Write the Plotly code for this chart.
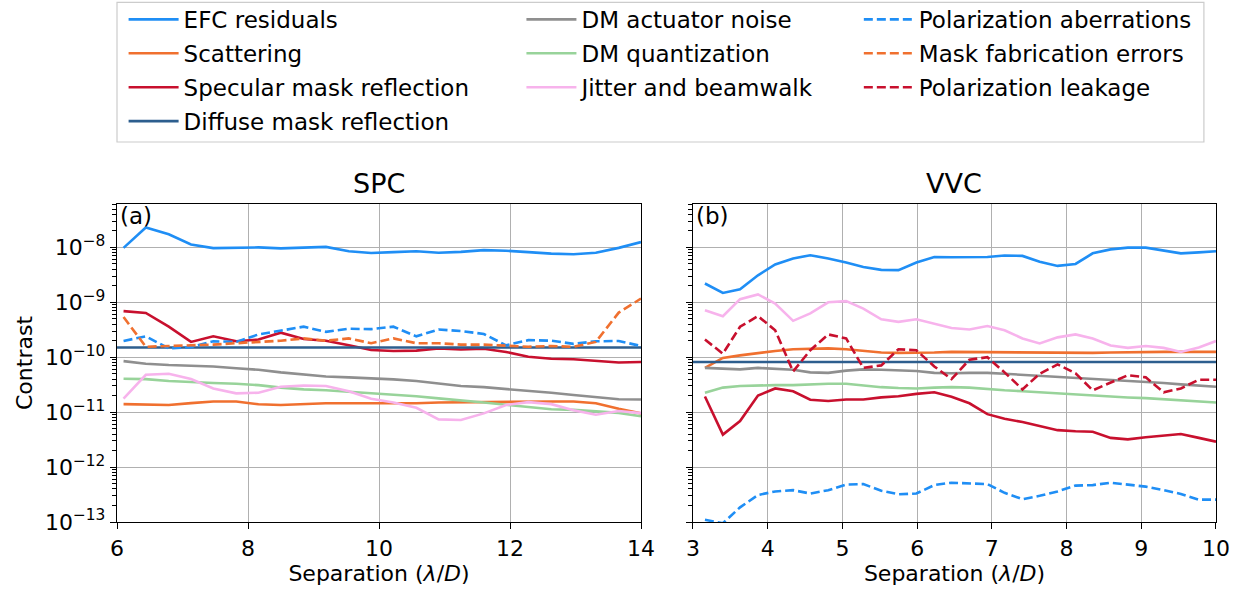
import plotly.graph_objects as go
from plotly.subplots import make_subplots

# separations (lambda/D)
spc_sep = [6.10, 6.44, 6.79, 7.13, 7.47, 7.82, 8.16, 8.50, 8.85, 9.19, 9.54, 9.88,
           10.22, 10.57, 10.91, 11.25, 11.60, 11.94, 12.28, 12.63, 12.97, 13.31, 13.66, 14.00]
vvc_sep = [3.16, 3.40, 3.63, 3.87, 4.10, 4.34, 4.57, 4.81, 5.05, 5.28, 5.52, 5.75,
           5.99, 6.23, 6.46, 6.70, 6.94, 7.17, 7.41, 7.64, 7.88, 8.12, 8.35, 8.59,
           8.82, 9.06, 9.30, 9.53, 9.77, 10.00]
spc_span = [6, 14]
vvc_span = [3, 10]

# y-axis decades
decade_vals = [1e-13, 1e-12, 1e-11, 1e-10, 1e-9, 1e-8]
decade_text = ["10<sup>−13</sup>", "10<sup>−12</sup>", "10<sup>−11</sup>",
               "10<sup>−10</sup>", "10<sup>−9</sup>", "10<sup>−8</sup>"]

# SPC contrast terms
spc_efc = [0.98e-8, 2.3e-8, 1.73e-8, 1.13e-8, 0.97e-8, 0.98e-8, 1.0e-8, 0.96e-8, 0.99e-8, 1.02e-8,
           0.85e-8, 0.79e-8, 0.82e-8, 0.85e-8, 0.80e-8, 0.83e-8, 0.89e-8, 0.87e-8, 0.82e-8, 0.77e-8,
           0.75e-8, 0.80e-8, 0.98e-8, 1.25e-8]
spc_scatter = [1.4e-11, 1.39e-11, 1.35e-11, 1.46e-11, 1.56e-11, 1.56e-11, 1.39e-11, 1.35e-11,
               1.42e-11, 1.45e-11, 1.45e-11, 1.45e-11, 1.43e-11, 1.45e-11, 1.5e-11, 1.52e-11,
               1.54e-11, 1.56e-11, 1.56e-11, 1.56e-11, 1.56e-11, 1.45e-11, 1.15e-11, 0.95e-11]
spc_specular = [6.9e-10, 6.4e-10, 3.6e-10, 1.9e-10, 2.4e-10, 1.95e-10, 2.1e-10, 2.8e-10, 2.15e-10,
                2.0e-10, 1.65e-10, 1.35e-10, 1.3e-10, 1.32e-10, 1.45e-10, 1.38e-10, 1.43e-10,
                1.25e-10, 1.02e-10, 0.94e-10, 0.92e-10, 0.87e-10, 0.80e-10, 0.82e-10]
spc_diffuse = [1.5e-10, 1.5e-10]
spc_dm_noise = [8.5e-11, 7.6e-11, 7.2e-11, 7.0e-11, 6.8e-11, 6.3e-11, 5.9e-11, 5.3e-11, 4.8e-11,
                4.45e-11, 4.3e-11, 4.15e-11, 3.95e-11, 3.7e-11, 3.3e-11, 3.0e-11, 2.85e-11,
                2.65e-11, 2.45e-11, 2.25e-11, 2.05e-11, 1.9e-11, 1.72e-11, 1.7e-11]
spc_dm_quant = [4.07e-11, 4.0e-11, 3.7e-11, 3.6e-11, 3.4e-11, 3.3e-11, 3.1e-11, 2.8e-11, 2.6e-11,
                2.5e-11, 2.35e-11, 2.25e-11, 2.1e-11, 1.95e-11, 1.78e-11, 1.65e-11, 1.5e-11,
                1.36e-11, 1.25e-11, 1.13e-11, 1.1e-11, 1.05e-11, 0.97e-11, 0.84e-11]
spc_jitter = [1.76e-11, 4.8e-11, 5.0e-11, 4.0e-11, 2.7e-11, 2.2e-11, 2.26e-11, 2.9e-11, 3.05e-11,
              3.0e-11, 2.4e-11, 1.75e-11, 1.5e-11, 1.2e-11, 0.74e-11, 0.72e-11, 0.95e-11,
              1.35e-11, 1.52e-11, 1.4e-11, 1.08e-11, 0.9e-11, 1.05e-11, 0.96e-11]
spc_pol_aberr = [1.98e-10, 2.4e-10, 1.45e-10, 1.53e-10, 1.95e-10, 1.9e-10, 2.6e-10, 3.1e-10, 3.6e-10,
                 2.9e-10, 3.3e-10, 3.25e-10, 3.6e-10, 2.4e-10, 3.2e-10, 3.0e-10, 2.65e-10, 1.65e-10,
                 2.05e-10, 2.0e-10, 1.75e-10, 1.95e-10, 1.98e-10, 1.6e-10]
spc_mask_fab = [5.4e-10, 1.55e-10, 1.6e-10, 1.64e-10, 1.7e-10, 1.8e-10, 1.9e-10, 2.0e-10, 2.2e-10,
                2.0e-10, 2.2e-10, 1.8e-10, 2.2e-10, 1.8e-10, 1.8e-10, 1.7e-10, 1.7e-10, 1.6e-10,
                1.55e-10, 1.6e-10, 1.55e-10, 1.9e-10, 6.5e-10, 1.17e-9]

# VVC contrast terms
vvc_efc = [2.2e-9, 1.48e-9, 1.73e-9, 3.1e-9, 4.9e-9, 6.3e-9, 7.2e-9, 6.3e-9, 5.3e-9, 4.4e-9,
           3.9e-9, 3.85e-9, 5.3e-9, 6.7e-9, 6.6e-9, 6.7e-9, 6.7e-9, 7.1e-9, 7.0e-9, 5.5e-9,
           4.6e-9, 5.0e-9, 7.8e-9, 9.2e-9, 9.9e-9, 9.9e-9, 8.7e-9, 7.8e-9, 8.1e-9, 8.5e-9]
vvc_scatter = [6.4e-11, 9.7e-11, 1.08e-10, 1.2e-10, 1.3e-10, 1.4e-10, 1.43e-10, 1.45e-10, 1.4e-10,
               1.3e-10, 1.22e-10, 1.2e-10, 1.2e-10, 1.22e-10, 1.25e-10, 1.24e-10, 1.24e-10,
               1.22e-10, 1.21e-10, 1.2e-10, 1.2e-10, 1.2e-10, 1.2e-10, 1.22e-10, 1.24e-10,
               1.25e-10, 1.25e-10, 1.25e-10, 1.25e-10, 1.25e-10]
vvc_specular = [1.93e-11, 3.9e-12, 6.9e-12, 2.0e-11, 2.7e-11, 2.4e-11, 1.68e-11, 1.6e-11, 1.7e-11,
                1.7e-11, 1.86e-11, 1.95e-11, 2.15e-11, 2.3e-11, 1.9e-11, 1.45e-11, 9.2e-12,
                7.6e-12, 6.6e-12, 5.6e-12, 4.7e-12, 4.5e-12, 4.4e-12, 3.4e-12, 3.2e-12, 3.5e-12,
                3.7e-12, 4.0e-12, 3.4e-12, 2.9e-12]
vvc_diffuse = [8.2e-11, 8.2e-11]
vvc_dm_noise = [6.4e-11, 6.2e-11, 6.0e-11, 6.4e-11, 6.2e-11, 5.9e-11, 5.3e-11, 5.2e-11, 5.7e-11,
                6.0e-11, 5.9e-11, 5.7e-11, 5.6e-11, 5.2e-11, 5.1e-11, 5.2e-11, 5.2e-11, 5.0e-11,
                4.8e-11, 4.6e-11, 4.4e-11, 4.2e-11, 4.0e-11, 3.9e-11, 3.7e-11, 3.6e-11, 3.4e-11,
                3.2e-11, 3.05e-11, 2.9e-11]
vvc_dm_quant = [2.26e-11, 2.8e-11, 3.0e-11, 3.1e-11, 3.1e-11, 3.1e-11, 3.2e-11, 3.3e-11, 3.3e-11,
                3.05e-11, 2.85e-11, 2.75e-11, 2.7e-11, 2.8e-11, 2.85e-11, 2.8e-11, 2.6e-11, 2.5e-11,
                2.4e-11, 2.3e-11, 2.2e-11, 2.1e-11, 2.0e-11, 1.9e-11, 1.85e-11, 1.8e-11, 1.72e-11,
                1.65e-11, 1.58e-11, 1.5e-11]
vvc_jitter = [7.2e-10, 5.6e-10, 1.14e-9, 1.39e-9, 9.5e-10, 4.6e-10, 6.3e-10, 1.0e-9, 1.05e-9,
              7.7e-10, 4.9e-10, 4.4e-10, 4.9e-10, 4.1e-10, 3.4e-10, 3.2e-10, 3.7e-10, 3.1e-10,
              2.2e-10, 1.78e-10, 2.3e-10, 2.6e-10, 2.2e-10, 1.64e-10, 1.48e-10, 1.6e-10, 1.48e-10,
              1.25e-10, 1.5e-10, 1.97e-10]
vvc_pol_aberr = [1.1e-13, 0.95e-13, 1.85e-13, 3.1e-13, 3.6e-13, 3.8e-13, 3.3e-13, 3.8e-13, 4.8e-13,
                 4.9e-13, 3.7e-13, 3.2e-13, 3.3e-13, 4.7e-13, 5.2e-13, 5.0e-13, 4.9e-13, 3.4e-13,
                 2.6e-13, 3.0e-13, 3.6e-13, 4.6e-13, 4.7e-13, 5.2e-13, 4.8e-13, 4.4e-13, 3.8e-13,
                 3.25e-13, 2.55e-13, 2.55e-13]
vvc_pol_leak = [2.1e-10, 1.16e-10, 3.6e-10, 5.6e-10, 3.1e-10, 5.5e-11, 1.34e-10, 2.6e-10, 2.2e-10,
                6.4e-11, 7.1e-11, 1.4e-10, 1.34e-10, 6.8e-11, 4.0e-11, 9.0e-11, 1.0e-10, 5.3e-11,
                2.6e-11, 5.0e-11, 7.4e-11, 5.1e-11, 2.5e-11, 3.4e-11, 4.7e-11, 4.3e-11, 2.3e-11,
                2.7e-11, 3.9e-11, 3.9e-11]

BLUE = "#1f8ef5"
ORANGE = "#f0702f"
CRIMSON = "#c8102e"
NAVY = "#2d5e8e"
GRAY = "#8f8f8f"
GREEN = "#98d39a"
PINK = "#f7b3ec"
FONT = "DejaVu Sans, sans-serif"
DASH = "9px,4px"

# name -> (colour, dash, legend column)
styles = {
    "EFC residuals": (BLUE, "solid", "legend"),
    "Scattering": (ORANGE, "solid", "legend"),
    "Specular mask reflection": (CRIMSON, "solid", "legend"),
    "Diffuse mask reflection": (NAVY, "solid", "legend"),
    "DM actuator noise": (GRAY, "solid", "legend2"),
    "DM quantization": (GREEN, "solid", "legend2"),
    "Jitter and beamwalk": (PINK, "solid", "legend2"),
    "Polarization aberrations": (BLUE, DASH, "legend3"),
    "Mask fabrication errors": (ORANGE, DASH, "legend3"),
    "Polarization leakage": (CRIMSON, DASH, "legend3"),
}

panels = [
    (1, spc_sep, spc_span, [
        ("EFC residuals", spc_efc),
        ("Scattering", spc_scatter),
        ("Specular mask reflection", spc_specular),
        ("Diffuse mask reflection", spc_diffuse),
        ("DM actuator noise", spc_dm_noise),
        ("DM quantization", spc_dm_quant),
        ("Jitter and beamwalk", spc_jitter),
        ("Polarization aberrations", spc_pol_aberr),
        ("Mask fabrication errors", spc_mask_fab),
    ]),
    (2, vvc_sep, vvc_span, [
        ("EFC residuals", vvc_efc),
        ("Scattering", vvc_scatter),
        ("Specular mask reflection", vvc_specular),
        ("Diffuse mask reflection", vvc_diffuse),
        ("DM actuator noise", vvc_dm_noise),
        ("DM quantization", vvc_dm_quant),
        ("Jitter and beamwalk", vvc_jitter),
        ("Polarization aberrations", vvc_pol_aberr),
        ("Polarization leakage", vvc_pol_leak),
    ]),
]

fig = make_subplots(rows=1, cols=2, shared_yaxes=True)

shown = set()
for col, sep, span, series in panels:
    for name, values in series:
        color, dash, legend = styles[name]
        x = span if name == "Diffuse mask reflection" else sep
        fig.add_trace(
            go.Scatter(
                x=x, y=values, mode="lines", name=name,
                line=dict(color=color, width=2.6, dash=dash),
                legend=legend, legendgroup=name, showlegend=name not in shown,
            ),
            row=1, col=col,
        )
        shown.add(name)

# minor ticks at 2..9 of every decade
minor_vals = [m * d for d in decade_vals for m in range(2, 10)]

axis_common = dict(
    showline=True, linecolor="black", linewidth=1.4, mirror=True,
    ticks="outside", ticklen=6, tickwidth=1.3, tickcolor="black",
    showgrid=True, gridcolor="#b0b0b0", gridwidth=1.4, zeroline=False,
    tickfont=dict(family=FONT, size=22, color="black"),
)
fig.update_xaxes(**axis_common)
fig.update_xaxes(range=spc_span, dtick=2, domain=[0, 0.4768], row=1, col=1)
fig.update_xaxes(range=vvc_span, dtick=1, domain=[0.5241, 1], row=1, col=2)
fig.update_xaxes(title=dict(text="Separation (<i>λ</i>/<i>D</i>)", standoff=3,
                            font=dict(family=FONT, size=22, color="black")))
fig.update_yaxes(**axis_common)
fig.update_yaxes(
    type="log", range=[-13, -7.21], tickmode="array",
    tickvals=decade_vals, ticktext=decade_text,
    minor=dict(ticks="outside", ticklen=3.5, tickwidth=1, tickcolor="black",
               tickvals=minor_vals, showgrid=False),
)
fig.update_yaxes(title=dict(text="Contrast", standoff=6,
                            font=dict(family=FONT, size=22, color="black")), row=1, col=1)
fig.update_yaxes(showticklabels=False, row=1, col=2)

for xref, title, tag in [("x", "SPC", "(a)"), ("x2", "VVC", "(b)")]:
    fig.add_annotation(text=title, xref=f"{xref} domain", yref="paper", x=0.5, y=1,
                       xanchor="center", yanchor="bottom", yshift=3, showarrow=False,
                       font=dict(family=FONT, size=27, color="black"))
    fig.add_annotation(text=tag, xref=f"{xref} domain", yref="paper", x=0.0, y=1,
                       xanchor="left", yanchor="top", xshift=1, yshift=3, showarrow=False,
                       font=dict(family=FONT, size=23, color="black"))

legend_common = dict(
    yanchor="top", y=1.648, xanchor="left", orientation="v",
    font=dict(family=FONT, size=23, color="black"),
    bgcolor="rgba(0,0,0,0)", itemwidth=50, tracegroupgap=1,
)
fig.update_layout(
    legend=dict(x=0.006, **legend_common),
    legend2=dict(x=0.368, **legend_common),
    legend3=dict(x=0.675, **legend_common),
)
fig.add_shape(type="rect", xref="paper", yref="paper", x0=0, x1=0.989, y0=1.195, y1=1.634,
              line=dict(color="#cccccc", width=1.2), fillcolor="rgba(0,0,0,0)")

fig.update_layout(
    width=1241, height=590,
    margin=dict(l=117, r=25, t=204, b=68, autoexpand=False),
    paper_bgcolor="white", plot_bgcolor="white",
    font=dict(family=FONT, color="black"),
)

# drop the page's default body margin so the figure sits at the window origin
fig.write_html(
    "out.html",
    config={"displayModeBar": False},
    post_script="document.body.style.margin = '0';",
)
